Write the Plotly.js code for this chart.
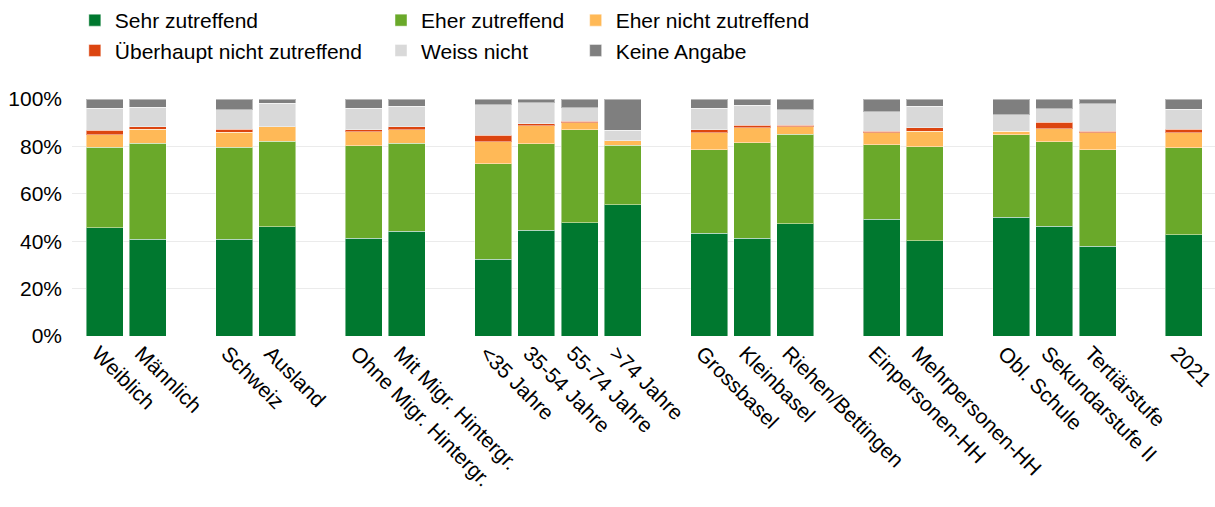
<!DOCTYPE html>
<html>
<head>
<meta charset="utf-8">
<script src="https://cdn.plot.ly/plotly-3.0.1.min.js"></script>
<style>html,body{margin:0;padding:0;background:#fff;}#chart{width:1215px;height:507px;}</style>
</head>
<body>
<div id="chart"></div>
<script>
// Category groups (a blank slot separates the groups on the axis)
const groups = [
  ["Weiblich", "Männlich"],
  ["Schweiz", "Ausland"],
  ["Ohne Migr. Hintergr.", "Mit Migr. Hintergr."],
  ["<35 Jahre", "35-54 Jahre", "55-74 Jahre", ">74 Jahre"],
  ["Grossbasel", "Kleinbasel", "Riehen/Bettingen"],
  ["Einpersonen-HH", "Mehrpersonen-HH"],
  ["Obl. Schule", "Sekundarstufe II", "Tertiärstufe"],
  ["2021"]
];
const categories = groups.flat();

// Shares in percent, in the order of `categories`
const sehrZutreffend     = [45.7, 40.9, 40.9, 46.1, 41.2, 44.3, 32.3, 44.6, 47.7, 55.3, 43.3, 41.2, 47.4, 49.2, 40.1, 50.1, 46.4, 37.8, 42.8];
const eherZutreffend     = [33.9, 40.5, 38.8, 36.0, 39.1, 37.1, 40.3, 36.6, 39.4, 25.1, 35.3, 40.4, 37.8, 31.5, 39.8, 34.8, 35.5, 40.8, 36.7];
const eherNichtZutreffend= [ 5.4,  5.9,  6.2,  6.1,  5.8,  5.7,  9.3,  7.5,  2.9,  1.9,  7.1,  6.2,  3.0,  5.0,  6.6,  1.6,  5.6,  7.2,  6.2];
const ueberhauptNicht    = [ 1.9,  0.9,  1.4,  0.0,  1.0,  1.1,  2.9,  0.9,  0.7,  0.0,  1.4,  1.2,  0.8,  0.8,  1.4,  0.0,  2.7,  0.7,  1.5];
const weissNicht         = [ 9.3,  8.3,  8.1, 10.0,  9.1,  8.8, 12.8,  8.9,  5.6,  4.6,  9.1,  8.3,  6.5,  8.2,  9.1,  6.9,  5.7, 11.5,  8.4];
const keineAngabe        = [ 3.8,  3.5,  4.6,  1.8,  3.8,  3.0,  2.4,  1.5,  3.7, 13.1,  3.8,  2.7,  4.5,  5.3,  3.0,  6.6,  4.1,  2.0,  4.4];

const seriesNames = ["Sehr zutreffend", "Eher zutreffend", "Eher nicht zutreffend",
                     "Überhaupt nicht zutreffend", "Weiss nicht", "Keine Angabe"];
const seriesValues = [sehrZutreffend, eherZutreffend, eherNichtZutreffend,
                      ueberhauptNicht, weissNicht, keineAngabe];
const yTickVals = [0, 20, 40, 60, 80, 100];
const yTickText = ["0%", "20%", "40%", "60%", "80%", "100%"];

// Styling
const colors = ["#00782f", "#6aa92a", "#ffb957", "#dc4510", "#d9d9d9", "#7f7f7f"];
const legendOf = ["legend", "legend2", "legend3", "legend", "legend2", "legend3"];

// Build axis category order with blank spacer slots between groups
const categoryOrder = [];
groups.forEach((g, i) => {
  if (i > 0) categoryOrder.push(" ".repeat(i));
  g.forEach(c => categoryOrder.push(c));
});

const traces = seriesNames.map((name, i) => ({
  type: "bar",
  name: name,
  x: categories,
  y: seriesValues[i],
  marker: {color: colors[i], line: {color: "rgba(255,255,255,0.45)", width: 1}},
  legend: legendOf[i],
  legendgroup: "g" + i,
  hoverinfo: "name+y"
}));

const font = {family: "Liberation Sans, Arial, sans-serif", size: 21, color: "#000"};
const legendBase = {
  orientation: "v", traceorder: "normal", xref: "container", yref: "container",
  xanchor: "left", yanchor: "top", y: 1.0, font: font, bgcolor: "rgba(0,0,0,0)", borderwidth: 0,
  tracegroupgap: 5, itemclick: false
};

const layout = {
  width: 1215, height: 507,
  margin: {l: 72, r: 0, t: 99, b: 171, autoexpand: false},
  paper_bgcolor: "#fff", plot_bgcolor: "#fff",
  font: font,
  barmode: "stack",
  bargap: 0.143,
  showlegend: true,
  legend:  Object.assign({}, legendBase, {x: 0.0616}),
  legend2: Object.assign({}, legendBase, {x: 0.3136}),
  legend3: Object.assign({}, legendBase, {x: 0.4738}),
  xaxis: {
    type: "category", categoryorder: "array", categoryarray: categoryOrder,
    tickmode: "array", tickvals: categoryOrder,
    range: [-0.76, 25.72], tickangle: 45, showgrid: false, zeroline: false,
    showline: false, ticks: "", tickfont: font, automargin: false,
    ticklabelshift: -7
  },
  yaxis: {
    range: [0, 100], tickvals: yTickVals, ticktext: yTickText,
    showgrid: true, gridcolor: "#ebebeb", gridwidth: 1, zeroline: false,
    showline: false, ticks: "", tickfont: font, automargin: false,
    ticklabelstandoff: 9
  }
};

Plotly.newPlot("chart", traces, layout, {displayModeBar: false, staticPlot: true});
</script>
</body>
</html>
